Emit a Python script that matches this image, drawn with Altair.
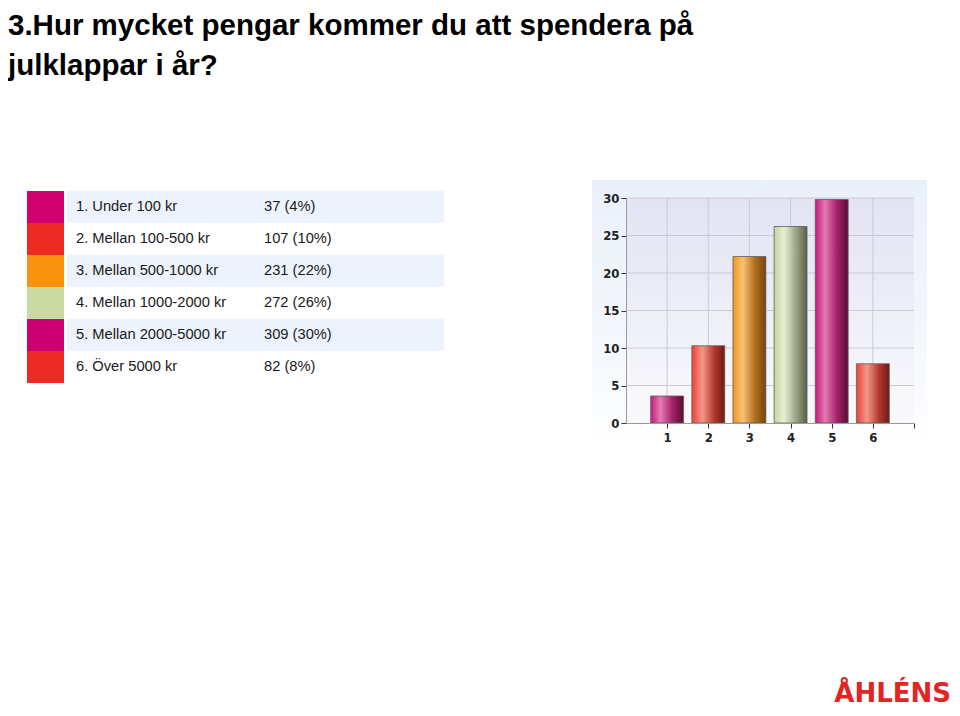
import altair as alt
import pandas as pd

W, H = 944, 700

title_lines = ["3.Hur mycket pengar kommer du att spendera på", "julklappar i år?"]
labels = ["1. Under 100 kr", "2. Mellan 100-500 kr", "3. Mellan 500-1000 kr",
          "4. Mellan 1000-2000 kr", "5. Mellan 2000-5000 kr", "6. Över 5000 kr"]
counts = [37, 107, 231, 272, 309, 82]
shares = ["4%", "10%", "22%", "26%", "30%", "8%"]
swatch_colors = ["#D1006F", "#EE2A24", "#F7930F", "#C9DBA2", "#CC0070", "#EE2A24"]
bar_categories = [1, 2, 3, 4, 5, 6]
bar_values = [3.6, 10.3, 22.2, 26.2, 29.8, 7.9]
x_domain = [0, 7]
y_domain = [0, 30]
y_ticks = [0, 5, 10, 15, 20, 25, 30]
x_ticks = [1, 2, 3, 4, 5, 6, 7]
logo_text = "ÅHLÉNS"

magenta = [("#C8187A", 0), ("#E27BB3", 0.3), ("#A8236A", 0.65), ("#560B35", 1)]
red = [("#EE4134", 0), ("#F4968A", 0.32), ("#B3392E", 0.68), ("#6E1811", 1)]
orange = [("#F0961E", 0), ("#F8C274", 0.3), ("#B06C1C", 0.68), ("#744510", 1)]
green = [("#C3D39E", 0), ("#E8F0D4", 0.3), ("#98A382", 0.68), ("#56604A", 1)]
bar_gradients = [magenta, red, orange, green, magenta, red]


def hgrad(stops):
    return alt.LinearGradient(gradient="linear", x1=0, y1=0, x2=1, y2=0,
                              stops=[alt.GradientStop(color=c, offset=o) for c, o in stops])


def vgrad(stops):
    return alt.LinearGradient(gradient="linear", x1=0, y1=0, x2=0, y2=1,
                              stops=[alt.GradientStop(color=c, offset=o) for c, o in stops])


one = pd.DataFrame({"k": [0]})

# ---------- title ----------
title_df = pd.DataFrame({"line": title_lines, "n": [0, 1]})
title_layer = alt.Chart(title_df).mark_text(
    align="left", baseline="alphabetic", font="Liberation Sans", fontWeight="bold",
    fontSize=29.5, color="#000000"
).encode(
    x=alt.value(0),
    y=alt.Y("n:Q", scale=alt.Scale(domain=[0, 1], range=[27, 67]), axis=None),
    text="line:N",
)

# ---------- table ----------
rows = pd.DataFrame({
    "i": list(range(1, len(labels) + 1)),
    "label": labels,
    "value": [f"{c} ({s})" for c, s in zip(counts, shares)],
    "swatch": swatch_colors,
})
ty = alt.Scale(domain=[0.5, 6.5], range=[183, 375], nice=False, zero=False)

band_layer = alt.Chart(rows).transform_filter("datum.i % 2 == 1").transform_calculate(
    y0="datum.i - 0.5", y1="datum.i + 0.5"
).mark_rect(fill="#EDF3FC").encode(
    x=alt.value(59), x2=alt.value(436),
    y=alt.Y("y0:Q", scale=ty, axis=None), y2="y1:Q",
)

swatch_layer = alt.Chart(rows).transform_calculate(
    y0="datum.i - 0.5", y1="datum.i + 0.5"
).mark_rect().encode(
    x=alt.value(19), x2=alt.value(56),
    y=alt.Y("y0:Q", scale=ty, axis=None), y2="y1:Q",
    fill=alt.Fill("swatch:N", scale=None),
)

label_layer = alt.Chart(rows).mark_text(
    align="left", baseline="middle", font="Liberation Sans", fontSize=14.7, color="#1a1a1a"
).encode(
    x=alt.value(68), y=alt.Y("i:Q", scale=ty, axis=None), text="label:N",
)

value_layer = alt.Chart(rows).mark_text(
    align="left", baseline="middle", font="Liberation Sans", fontSize=14.7, color="#1a1a1a"
).encode(
    x=alt.value(256), y=alt.Y("i:Q", scale=ty, axis=None), text="value:N",
)

# ---------- bar chart ----------
bx = alt.Scale(domain=x_domain, range=[618, 906], nice=False, zero=False)
by = alt.Scale(domain=y_domain, range=[415, 190], nice=False, zero=False)

panel_layer = alt.Chart(one).mark_rect(
    fill=vgrad([("#EAF0FA", 0), ("#F6F9FD", 0.7), ("#FFFFFF", 1)])
).encode(
    x=alt.value(584), x2=alt.value(919), y=alt.value(172), y2=alt.value(440),
)

area_df = pd.DataFrame({"x0": [x_domain[0]], "x1": [x_domain[1]],
                        "y0": [y_domain[0]], "y1": [y_domain[1]]})
label_font = "Liberation Sans Narrow, DejaVu Sans Condensed, Liberation Sans"
plot_bg_layer = alt.Chart(area_df).mark_rect(
    fill=vgrad([("#E3E3F4", 0), ("#EEEEF8", 0.5), ("#FAFAFD", 1)])
).encode(
    x=alt.X("x0:Q", scale=bx, axis=alt.Axis(
        orient="bottom", offset=-(H - 415), values=x_ticks,
        labelExpr="datum.value == 7 ? '' : datum.label",
        tickSize=5, tickColor="#333333", domainColor="#9a9a9a", grid=False,
        labelFont=label_font, labelFontSize=13, labelFontWeight="bold", labelColor="#222222",
        labelPadding=3, title=None, labelOverlap=False, zindex=2)),
    x2="x1:Q",
    y=alt.Y("y0:Q", scale=by, axis=alt.Axis(
        orient="left", offset=-618, values=y_ticks,
        tickSize=5, tickColor="#333333", domainColor="#9a9a9a", grid=False,
        labelFont=label_font, labelFontSize=13, labelFontWeight="bold", labelColor="#222222",
        labelPadding=2, title=None, labelOverlap=False, zindex=2)),
    y2="y1:Q",
)

hgrid_df = pd.DataFrame({"v": y_ticks[1:], "x0": x_domain[0], "x1": x_domain[1]})
hgrid_layer = alt.Chart(hgrid_df).mark_rule(color="#CACAD8", strokeWidth=1).encode(
    y=alt.Y("v:Q", scale=by, axis=None),
    x=alt.X("x0:Q", scale=bx, axis=None), x2="x1:Q",
)
vgrid_df = pd.DataFrame({"v": x_ticks[:-1], "y0": y_domain[0], "y1": y_domain[1]})
vgrid_layer = alt.Chart(vgrid_df).mark_rule(color="#CACAD8", strokeWidth=1).encode(
    x=alt.X("v:Q", scale=bx, axis=None),
    y=alt.Y("y0:Q", scale=by, axis=None), y2="y1:Q",
)

bars_df = pd.DataFrame({"i": bar_categories, "v": bar_values})
bar_layers = []
for cat, grad in zip(bar_categories, bar_gradients):
    bar_layers.append(
        alt.Chart(bars_df).transform_filter(f"datum.i == {cat}").transform_calculate(
            xl="datum.i - 0.4", xr="datum.i + 0.4", base="0"
        ).mark_bar(fill=hgrad(grad), stroke="#5e5e5e", strokeWidth=0.8).encode(
            x=alt.X("xl:Q", scale=bx, axis=None), x2="xr:Q",
            y=alt.Y("v:Q", scale=by, axis=None), y2="base:Q",
        )
    )

# ---------- logo ----------
logo_df = pd.DataFrame({"t": [logo_text]})
logo_layer = alt.Chart(logo_df).mark_text(
    align="right", baseline="alphabetic", font="DejaVu Sans", fontWeight="bold",
    fontSize=26, color="#E32521"
).encode(x=alt.value(943), y=alt.value(694), text="t:N")

chart = alt.layer(
    title_layer, band_layer, swatch_layer, label_layer, value_layer,
    panel_layer, plot_bg_layer, hgrid_layer, vgrid_layer, *bar_layers, logo_layer,
).resolve_scale(x="independent", y="independent").properties(
    width=W, height=H, autosize=alt.AutoSizeParams(type="none"), padding=0,
    background="#FFFFFF",
).configure_view(stroke=None)

chart.save("out.html", embed_options={"renderer": "svg", "actions": False})
